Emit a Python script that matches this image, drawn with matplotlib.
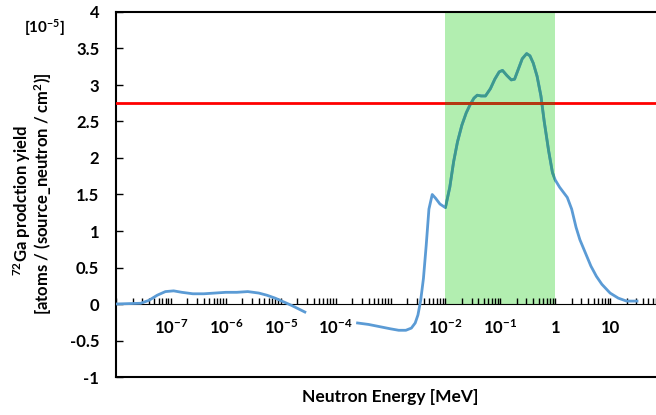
import numpy as np
import matplotlib
matplotlib.use("Agg")
import matplotlib.pyplot as plt
import matplotlib.patches as patches
from matplotlib.ticker import LogLocator, NullFormatter

plt.rcParams['font.family'] = ['Lato', 'DejaVu Sans']
plt.rcParams['font.weight'] = 'bold'
plt.rcParams['mathtext.fontset'] = 'custom'
plt.rcParams['mathtext.rm'] = 'Lato:bold'
plt.rcParams['mathtext.bf'] = 'Lato:bold'
plt.rcParams['mathtext.it'] = 'Lato:bold'

# low energy part (log10 of energy in MeV)
log_e1 = [-8.0, -7.55, -7.4, -7.25, -7.1, -6.95, -6.8, -6.6, -6.4, -6.2, -6.0, -5.8,
          -5.6, -5.4, -5.25, -5.1, -4.95, -4.8, -4.56]
yield1 = [0.0, 0.01, 0.05, 0.12, 0.17, 0.18, 0.16, 0.14, 0.14, 0.15, 0.16, 0.16,
          0.17, 0.15, 0.12, 0.08, 0.03, -0.02, -0.11]

# high energy part
log_e2 = [-3.6, -3.4, -3.2, -3.0, -2.85, -2.72, -2.62, -2.55, -2.5, -2.45, -2.4, -2.35,
          -2.3, -2.24, -2.18, -2.1, -2.0, -1.92, -1.85, -1.78, -1.7, -1.62, -1.55,
          -1.48, -1.42, -1.35, -1.27, -1.18, -1.1, -1.02, -0.96, -0.88, -0.8, -0.74,
          -0.68, -0.6, -0.52, -0.46, -0.4, -0.33, -0.26, -0.2, -0.12, -0.05, 0.0,
          0.08, 0.16, 0.22, 0.3, 0.38, 0.45, 0.55, 0.65, 0.75, 0.85, 1.0, 1.15,
          1.3, 1.49]
yield2 = [-0.26, -0.28, -0.31, -0.34, -0.36, -0.36, -0.33, -0.26, -0.15, 0.05, 0.35, 0.8,
          1.3, 1.50, 1.45, 1.37, 1.32, 1.6, 1.95, 2.22, 2.45, 2.62, 2.73,
          2.82, 2.86, 2.85, 2.85, 2.95, 3.08, 3.18, 3.2, 3.13, 3.07, 3.08,
          3.2, 3.36, 3.43, 3.4, 3.3, 3.12, 2.85, 2.5, 2.1, 1.8, 1.70,
          1.6, 1.52, 1.46, 1.3, 1.05, 0.88, 0.7, 0.52, 0.38, 0.27, 0.15, 0.08,
          0.04, 0.04]

band_lo, band_hi = 1e-2, 1.0
threshold = 2.75

tick_energies = [1e-7, 1e-6, 1e-5, 1e-4, 1e-2, 1e-1, 1, 10]
tick_labels = [r'$\mathbf{10^{-7}}$', r'$\mathbf{10^{-6}}$', r'$\mathbf{10^{-5}}$',
               r'$\mathbf{10^{-4}}$', r'$\mathbf{10^{-2}}$', r'$\mathbf{10^{-1}}$',
               '1', '10']

energy = np.concatenate([10 ** np.array(log_e1), [np.nan], 10 ** np.array(log_e2)])
yields = np.concatenate([yield1, [np.nan], yield2])

fig = plt.figure(figsize=(6.56, 4.15), dpi=100)
ax = fig.add_axes([116 / 656, 38 / 415, 549 / 656, 365 / 415])
ax.set_xscale('log')
ax.set_xlim(1e-8, 100)
ax.set_ylim(-1, 4)

# green band only above the zero line
ax.fill_between([band_lo, band_hi], 0, 4, color='#b2eeb0', lw=0, zorder=1)
band_clip = patches.Rectangle((band_lo, 0), band_hi - band_lo, 4, transform=ax.transData)

ax.plot(energy, yields, color='#5b9bd5', lw=2, zorder=3)
teal, = ax.plot(energy, yields, color='#3d9a8c', lw=2, zorder=4)
teal.set_clip_path(band_clip)

ax.axhline(threshold, color='#ff0000', lw=2, zorder=5)
red2 = ax.axhline(threshold, color='#b03a12', lw=2, zorder=6)
red2.set_clip_path(band_clip)

# x axis drawn at y = 0 with ticks pointing up
ax.spines['bottom'].set_position(('data', 0))
ax.spines['bottom'].set_zorder(2)
ax.spines['right'].set_visible(False)
ax.xaxis.set_major_locator(LogLocator(base=10, numticks=20))
ax.xaxis.set_minor_locator(LogLocator(base=10, subs=np.arange(2, 10), numticks=20))
ax.xaxis.set_minor_formatter(NullFormatter())
ax.tick_params(axis='x', which='both', direction='in', length=4, width=1,
               labelbottom=False)
ax.axhline(-1, color='black', lw=1.5, clip_on=False, zorder=2)

for e, lab in zip(tick_energies, tick_labels):
    ax.text(e, -0.33, lab, ha='center', va='center', fontsize=12, fontweight='bold')

ax.set_yticks(np.arange(-1, 4.01, 0.5))
ax.set_yticklabels(['-1', '-0.5', '0', '0.5', '1', '1.5', '2', '2.5', '3', '3.5', '4'])
ax.tick_params(axis='y', direction='in', length=5, width=1, pad=12, labelsize=12)
for s in ['left', 'top']:
    ax.spines[s].set_linewidth(1.5)

fig.text(45 / 656, 1 - 28 / 415, r'[10$^{\mathbf{-5}}$]', ha='center', va='center',
         fontsize=11, fontweight='bold')
fig.text(22 / 656, 1 - 200 / 415, r'$^{\mathbf{72}}$Ga prodction yield', rotation=90,
         ha='center', va='center', fontsize=12, fontweight='bold')
fig.text(43 / 656, 1 - 194 / 415, r'[atoms / (source_neutron / cm$^{\mathbf{2}}$)]',
         rotation=90, ha='center', va='center', fontsize=12, fontweight='bold')
fig.text(390 / 656, 1 - 397 / 415, 'Neutron Energy [MeV]', ha='center', va='center',
         fontsize=12.5, fontweight='bold')

fig.savefig('out.png', dpi=100)
